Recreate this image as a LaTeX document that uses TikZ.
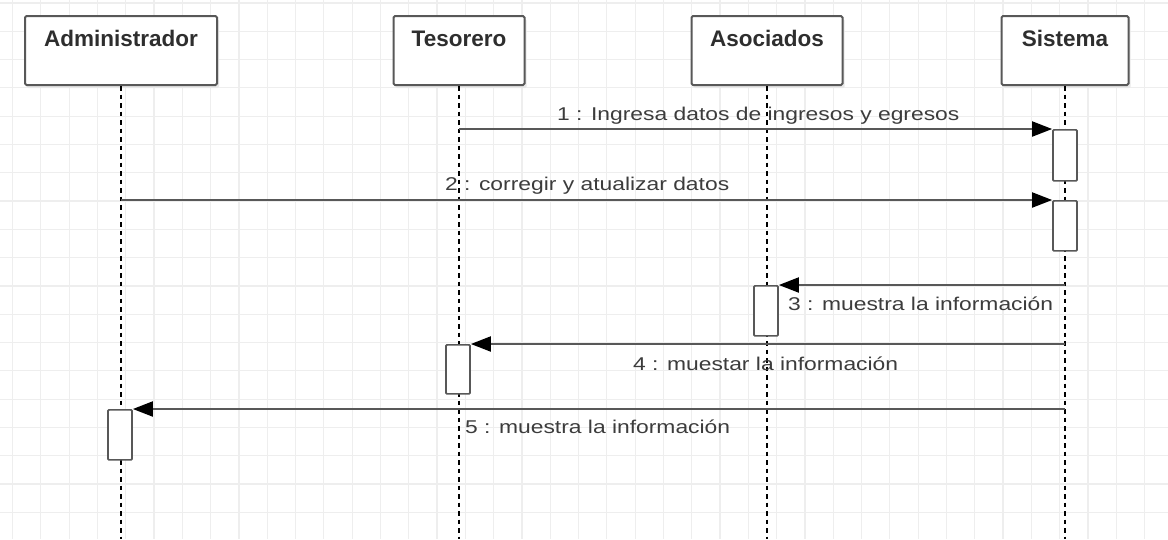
\documentclass[tikz,border=0pt]{standalone}
\usepackage{fontspec}
\setmainfont{Liberation Sans}
\usetikzlibrary{arrows.meta,shadows}
\definecolor{gridc}{HTML}{EEEEEE}
\definecolor{edgec}{HTML}{585858}
\definecolor{txtc}{HTML}{3C3C3C}
\tikzset{
  gridline/.style={draw=gridc, line width=1.2pt},
  actorbox/.style={draw=edgec, line width=2pt, fill=white, rounded corners=1.5pt,
    minimum height=69pt, inner sep=0pt,
    drop shadow={shadow xshift=2pt, shadow yshift=-3pt, fill=black!9, opacity=1}},
  actortext/.style={font=\fontsize{22.5}{26}\selectfont\bfseries, text=black!82, anchor=base, inner sep=0pt},
  lifeline/.style={draw=black, line width=1.6pt, dash pattern=on 4.5pt off 4pt},
  actbar/.style={draw=edgec, line width=1.7pt, fill=white, rounded corners=1pt,
    minimum width=24pt, inner sep=0pt, anchor=north},
  msg/.style={draw=edgec, line width=2pt, -{Triangle[length=20pt,width=15pt,black]}},
  msglabel/.style={font=\fontsize{18.5}{22}\selectfont, text=txtc, anchor=base west, inner sep=0pt},
}
\newcommand{\wide}[1]{\scalebox{1.235}[1]{#1}}
\begin{document}
\begin{tikzpicture}[x=1pt,y=-1pt]
\useasboundingbox (0,0) rectangle (1168,539);
\fill[white] (0,0) rectangle (1168,539);
% grid
\foreach \k in {0,...,40} \draw[gridline] ({12.5+28.3*\k},0) -- ({12.5+28.3*\k},539);
\foreach \k in {0,...,18} \draw[gridline] (0,{2.9+28.3*\k}) -- (1168,{2.9+28.3*\k});

\coordinate (bottom) at (0,539);

% actors
\node[actorbox, minimum width=192pt] (adm) at (121,50.5) {};
\node[actorbox, minimum width=131pt] (tes) at (459,50.5) {};
\node[actorbox, minimum width=151pt] (aso) at (767,50.5) {};
\node[actorbox, minimum width=127pt] (sis) at (1065,50.5) {};
\node[actortext] (admt) at (121,46) {Administrador};
\node[actortext] (test) at (459,46) {Tesorero};
\node[actortext] (asot) at (767,46) {Asociados};
\node[actortext] (sist) at (1065,46) {Sistema};

% lifelines
\draw[lifeline] (adm.south) -- (adm.south |- bottom);
\draw[lifeline] (tes.south) -- (tes.south |- bottom);
\draw[lifeline] (aso.south) -- (aso.south |- bottom);
\draw[lifeline] (sis.south) -- (sis.south |- bottom);

% activation bars
\node[actbar, minimum height=51pt] (a1) at (1065,129) {};
\node[actbar, minimum height=50pt] (a2) at (1065,200) {};
\node[actbar, minimum height=50pt] (a3) at (766,285) {};
\node[actbar, minimum height=49pt] (a4) at (458,344) {};
\node[actbar, minimum height=50pt] (a5) at (120,409) {};

% messages
\draw[msg] (tes.south |- a1.north west) -- (a1.north west);
\draw[msg] (adm.south |- a2.north west) -- (a2.north west);
\draw[msg] (sis.south |- a3.north east) -- (a3.north east);
\draw[msg] (sis.south |- a4.north east) -- (a4.north east);
\draw[msg] (sis.south |- a5.north east) -- (a5.north east);

% labels
\node[msglabel] (l1) at (557,120) {\wide{1 : Ingresa datos de ingresos y egresos}};
\node[msglabel] (l2) at (445,190) {\wide{2 : corregir y atualizar datos}};
\node[msglabel] (l3) at (788,310) {\wide{3 : muestra la información}};
\node[msglabel] (l4) at (633,370) {\wide{4 : muestar la información}};
\node[msglabel] (l5) at (465,433) {\wide{5 : muestra la información}};
\end{tikzpicture}
\end{document}
